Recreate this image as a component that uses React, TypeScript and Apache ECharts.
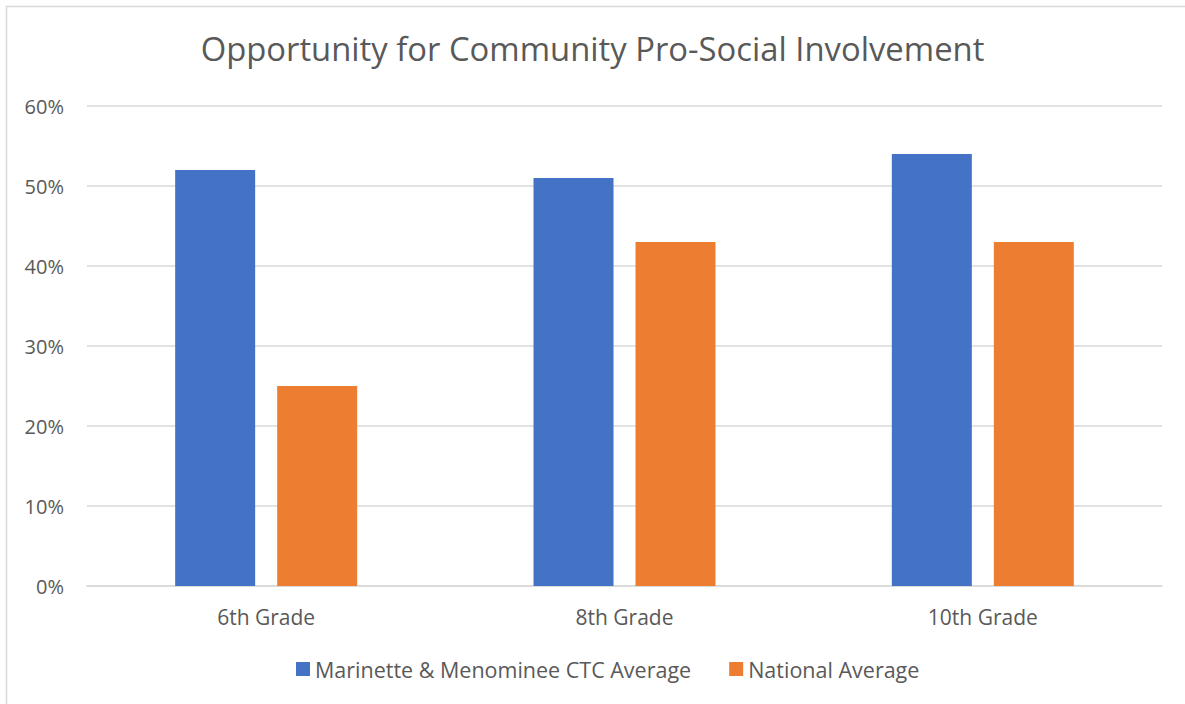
import React, { useEffect, useRef } from "react";
import * as echarts from "echarts";

const categories = ["6th Grade", "8th Grade", "10th Grade"];
const seriesNames = ["Marinette & Menominee CTC Average", "National Average"];
const localValues = [52, 51, 54];
const nationalValues = [25, 43, 43];
const titleText = "Opportunity for Community Pro-Social Involvement";

export default function App() {
  const ref = useRef<HTMLDivElement>(null);
  useEffect(() => {
    if (!ref.current) return;
    const chart = echarts.init(ref.current, null, { renderer: "svg" });
    const font = "'Open Sans', 'Noto Sans', sans-serif";
    chart.setOption({
      animation: false,
      backgroundColor: "#ffffff",
      textStyle: { fontFamily: font },
      title: {
        text: titleText,
        left: "center",
        top: 27,
        textStyle: { fontFamily: font, fontSize: 32.8, fontWeight: "normal", color: "#595959" },
      },
      graphic: [
        {
          type: "rect",
          shape: { x: 6.5, y: 6.5, width: 1200, height: 720 },
          style: { fill: "none", stroke: "#d9d9d9", lineWidth: 1.5 },
          silent: true,
        },
      ],
      legend: {
        bottom: 19,
        left: 291,
        itemWidth: 14,
        itemHeight: 14,
        itemGap: 38,
        icon: "rect",
        textStyle: { fontFamily: font, fontSize: 21.5, color: "#595959" },
        data: seriesNames,
      },
      grid: { left: 87, right: 23, top: 106, bottom: 118 },
      xAxis: {
        type: "category",
        data: categories,
        axisTick: { show: false },
        axisLine: { lineStyle: { color: "#d9d9d9", width: 1.5 } },
        axisLabel: { fontFamily: font, fontSize: 21, color: "#595959", margin: 20 },
      },
      yAxis: {
        type: "value",
        min: 0,
        max: 60,
        interval: 10,
        axisLine: { show: false },
        axisTick: { show: false },
        splitLine: { lineStyle: { color: "#d9d9d9", width: 1.5 } },
        axisLabel: {
          fontFamily: font,
          fontSize: 20,
          color: "#595959",
          margin: 23,
          formatter: (v: number) => v + "%",
        },
      },
      series: [
        {
          name: seriesNames[0],
          type: "bar",
          data: localValues,
          barWidth: 80,
          barGap: "27.5%",
          itemStyle: { color: "#4472C4" },
        },
        {
          name: seriesNames[1],
          type: "bar",
          data: nationalValues,
          barWidth: 80,
          barGap: "27.5%",
          itemStyle: { color: "#ED7D31" },
        },
      ],
    });
    return () => chart.dispose();
  }, []);
  return (
    <div
      ref={ref}
      style={{ position: "fixed", left: 0, top: 0, width: 1185, height: 704 }}
    />
  );
}
